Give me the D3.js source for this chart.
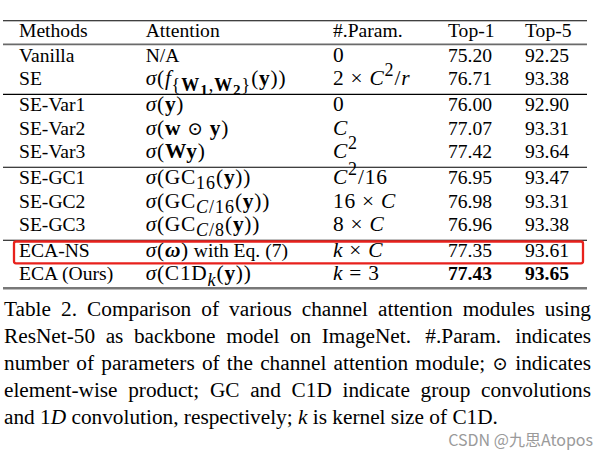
<!DOCTYPE html>
<html>
<head>
<meta charset="utf-8">
<script src="https://cdn.jsdelivr.net/npm/d3@7"></script>
<style>
  html, body { margin: 0; padding: 0; background: #fff; }
  svg { display: block; }
  text { white-space: pre; }
</style>
</head>
<body>
<svg id="chart" width="608" height="456"></svg>
<script>
// ---------------- DATA ----------------
const headers = ["Methods", "Attention", "#.Param.", "Top-1", "Top-5"];
const methods = ["Vanilla", "SE", "SE-Var1", "SE-Var2", "SE-Var3",
                 "SE-GC1", "SE-GC2", "SE-GC3", "ECA-NS", "ECA (Ours)"];
const groups = [0, 0, 1, 1, 1, 2, 2, 2, 3, 3];
// mini markup: ~[..] italic, *[..] bold, %[..] bold italic, _[..] subscript,
// ^[..] superscript, ![..] upright text-mode words
const attention = [
  "![N/A]",
  "~[σ](~[f]_[{*[W]_[*[1]],*[W]_[*[2]]}](*[y]))",
  "~[σ](*[y])",
  "~[σ](*[w] ⊙ *[y])",
  "~[σ](*[Wy])",
  "~[σ](GC_[16](*[y]))",
  "~[σ](GC_[~[C]/16](*[y]))",
  "~[σ](GC_[~[C]/8](*[y]))",
  "~[σ](%[ω])![ with Eq. (7)]",
  "~[σ](C1D_[~[k]](*[y]))"
];
const params = ["0", "2 × ~[C]^[2]/~[r]", "0", "~[C]", "~[C]^[2]",
                "~[C]^[2]/16", "16 × ~[C]", "8 × ~[C]", "~[k] × ~[C]", "~[k] = 3"];
const top1 = [75.20, 76.71, 76.00, 77.07, 77.42, 76.95, 76.98, 76.96, 77.35, 77.43];
const top5 = [92.25, 93.38, 92.90, 93.31, 93.64, 93.47, 93.31, 93.38, 93.61, 93.65];
const highlighted = "ECA-NS";
const captionLines = [
  "Table 2. Comparison of various channel attention modules using",
  "ResNet-50 as backbone model on ImageNet.  #.Param.  indicates",
  "number of parameters of the channel attention module; ⊙ indicates",
  "element-wise product; GC and C1D indicate group convolutions",
  "and 1~[D] convolution, respectively; ~[k] is kernel size of C1D."
];
const watermark = "CSDN @九思Atopos";

// ---------------- LAYOUT ----------------
const svg = d3.select("#chart");
const FONT = "'Liberation Serif', 'Times New Roman', serif";
const SYMFONT = "'DejaVu Sans', 'DejaVu Serif', sans-serif";
const FS = 19.6;
const MATHFS = 21.4;
const CAPFS = 21.3;
const left = 3, right = 587;

const x = d3.scaleOrdinal().domain(headers).range([19, 145.7, 333, 448, 525]);
const yRow = d3.scaleLinear().domain([0, methods.length - 1]).range([61.7, 61.7 + 23.5 * (methods.length - 1)]);
const groupGap = 2.4;
const baseline = i => yRow(i) + groupGap * groups[i];
const headerBaseline = 37;

// ---------- markup parser ----------
function parse(str) {
  let pos = 0;
  function parseSeq() {
    const nodes = [];
    let buf = "";
    const flush = () => { if (buf) { nodes.push({type: "t", text: buf}); buf = ""; } };
    while (pos < str.length) {
      const c = str[pos], n = str[pos + 1];
      if ("~*%_^!".includes(c) && n === "[") {
        flush();
        pos += 2;
        nodes.push({type: c, children: parseSeq()});
      } else if (c === "]") {
        pos++;
        flush();
        return nodes;
      } else {
        buf += c; pos++;
      }
    }
    flush();
    return nodes;
  }
  return parseSeq();
}

function renderMarkup(textSel, str, baseSize, opts = {}) {
  const state = {shift: 0};
  const subScale = opts.subScale || 0.7;
  const ls = opts.letterSpacing || 0;
  const textSize = opts.textSize || baseSize;
  function emit(text, st) {
    const parts = text.split(/(⊙)/).filter(p => p.length);
    parts.forEach(p => {
      const dy = st.shift - state.shift;
      state.shift = st.shift;
      const sym = p === "⊙";
      textSel.append("tspan")
        .attr("dy", dy)
        .style("font-family", sym ? SYMFONT : FONT)
        .attr("font-size", sym ? st.size * 0.88 : st.size)
        .attr("font-style", st.italic ? "italic" : "normal")
        .attr("font-weight", sym ? 200 : (st.bold ? "bold" : "normal"))
        .attr("letter-spacing", st.text ? 0 : ls * (st.level ? 1.3 : 1))
        .text(p);
    });
  }
  function walk(nodes, st) {
    nodes.forEach(nd => {
      if (nd.type === "t") {
        emit(nd.text, st);
      } else {
        const ns = Object.assign({}, st);
        if (nd.type === "~") ns.italic = true;
        if (nd.type === "*") { ns.bold = true; ns.italic = false; }
        if (nd.type === "%") { ns.bold = true; ns.italic = true; }
        if (nd.type === "!") { ns.text = true; ns.size = textSize; ns.italic = false; ns.bold = false; }
        if (nd.type === "_") { ns.shift = st.shift + st.size * 0.25; ns.size = st.size * subScale; ns.level = st.level + 1; }
        if (nd.type === "^") { ns.shift = st.shift - st.size * 0.42; ns.size = st.size * subScale; ns.level = st.level + 1; }
        walk(nd.children, ns);
      }
    });
  }
  walk(parse(str), {shift: 0, size: baseSize, italic: false, bold: false, text: false, level: 0});
}

const g = svg.append("g").attr("fill", "#000");

// ---------- rules ----------
const hline = (y, color, w) => g.append("line")
  .attr("x1", left).attr("x2", right).attr("y1", y).attr("y2", y)
  .attr("stroke", color).attr("stroke-width", w);

hline(20.7, "#000", 1.1);
hline(44.4, "#6a6a6a", 1.6);
methods.forEach((m, i) => {
  if (i > 0 && groups[i] !== groups[i - 1]) hline(baseline(i - 1) + 9.2, "#000", 1.1);
});
hline(baseline(methods.length - 1) + 7.8, "#787878", 2.6);

// ---------- header ----------
g.selectAll("text.hdr").data(headers).join("text")
  .attr("class", "hdr")
  .style("font-family", FONT)
  .attr("x", d => x(d)).attr("y", headerBaseline)
  .attr("font-size", FS)
  .text(d => d);

// ---------- body ----------
const best1 = d3.maxIndex(top1), best5 = d3.maxIndex(top5);
const fmt = d3.format(".2f");
const mathOpts = {subScale: 0.84, letterSpacing: 0.75, textSize: FS};

methods.forEach((m, i) => {
  const yb = baseline(i);
  g.append("text").style("font-family", FONT).attr("x", x(headers[0])).attr("y", yb).attr("font-size", FS).text(m);
  renderMarkup(g.append("text").style("font-family", FONT).attr("x", x(headers[1])).attr("y", yb),
    attention[i], MATHFS, mathOpts);
  renderMarkup(g.append("text").style("font-family", FONT).attr("x", x(headers[2])).attr("y", yb),
    params[i], MATHFS, mathOpts);
  g.append("text").style("font-family", FONT).attr("x", x(headers[3])).attr("y", yb).attr("font-size", FS)
    .attr("font-weight", i === best1 ? "bold" : "normal").text(fmt(top1[i]));
  g.append("text").style("font-family", FONT).attr("x", x(headers[4])).attr("y", yb).attr("font-size", FS)
    .attr("font-weight", i === best5 ? "bold" : "normal").text(fmt(top5[i]));
});

// ---------- highlight box ----------
const hi = methods.indexOf(highlighted);
g.append("rect")
  .attr("x", 14).attr("y", baseline(hi) - 15.4)
  .attr("width", 583 - 14).attr("height", 21.8)
  .attr("rx", 2).attr("fill", "none")
  .attr("stroke", "#e8211c").attr("stroke-width", 2.3);

// ---------- caption (justified) ----------
const capLeft = 4, capRight = 591;
const capBase = 316, capStep = 27.1;
captionLines.forEach((line, li) => {
  const words = line.split(/ +/);
  const seps = line.match(/ +/g) || [];
  const yb = capBase + li * capStep;
  const nodes = words.map(w => {
    const t = g.append("text").style("font-family", FONT).attr("y", yb).attr("font-size", CAPFS);
    renderMarkup(t, w, CAPFS);
    return t;
  });
  const widths = nodes.map(t => t.node().getComputedTextLength());
  const total = d3.sum(widths);
  const weights = seps.map(s => s.length > 1 ? 1.35 : 1);
  const last = li === captionLines.length - 1;
  const unit = last ? CAPFS * 0.25 : (capRight - capLeft - total) / d3.sum(weights);
  let cx = capLeft;
  nodes.forEach((t, k) => {
    t.attr("x", cx);
    cx += widths[k] + (k < weights.length ? unit * weights[k] : 0);
  });
});

// ---------- watermark ----------
svg.append("text")
  .attr("x", 593).attr("y", 445.5)
  .attr("text-anchor", "end")
  .style("font-family", "'Noto Sans CJK SC', 'Noto Sans', sans-serif")
  .attr("font-size", 16)
  .attr("fill", "#9a9a9a")
  .text(watermark);
</script>
</body>
</html>
